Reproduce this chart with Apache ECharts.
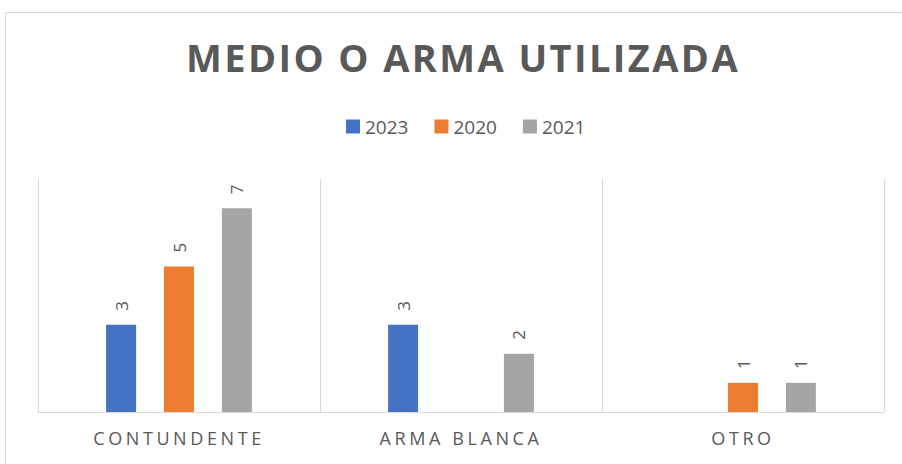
<!DOCTYPE html>
<html>
<head>
<meta charset="utf-8">
<script src="https://cdn.jsdelivr.net/npm/echarts@6/dist/echarts.min.js"></script>
<style>
  html, body { margin: 0; padding: 0; background: #fff; }
  #chart { width: 902px; height: 464px; }
  /* Excel-style spaced capitals for title and category labels */
  #chart text[style*="spaced-title"] { letter-spacing: 2.4px; }
  #chart text[style*="spaced-axis"] { letter-spacing: 3.6px; }
</style>
</head>
<body>
<div id="chart"></div>
<script>
const categories = ["CONTUNDENTE", "ARMA BLANCA", "OTRO"];
const seriesNames = ["2023", "2020", "2021"];
const values2023 = [3, 3, null];
const values2020 = [5, null, 1];
const values2021 = [7, 2, 1];
const colors = ["#4472C4", "#ED7D31", "#A5A5A5"];

const textGray = "#595959";
const lineGray = "#D9D9D9";

const chart = echarts.init(document.getElementById("chart"), null, { renderer: "svg" });

// value labels read bottom-to-top above each bar
const labelStyle = {
  show: true,
  position: "top",
  rotate: 90,
  align: "left",
  verticalAlign: "middle",
  distance: 14,
  color: textGray,
  fontSize: 17,
  fontFamily: "Open Sans"
};

function makeSeries(name, data, i) {
  return {
    name: name,
    type: "bar",
    data: data,
    barWidth: 30,
    barGap: "93%",
    itemStyle: { color: colors[i] },
    label: labelStyle,
    emphasis: { disabled: true }
  };
}

chart.setOption({
  animation: false,
  graphic: [{
    type: "rect",
    shape: { x: 5.5, y: 12.5, width: 920, height: 480 },
    style: { fill: "none", stroke: lineGray, lineWidth: 1 },
    silent: true,
    z: -10
  }],
  title: {
    text: "MEDIO O ARMA UTILIZADA",
    left: 186,
    top: 36,
    padding: 0,
    textAlign: "left",
    textStyle: {
      color: textGray,
      fontSize: 38,
      fontWeight: "bold",
      fontFamily: "Open Sans, spaced-title",
      lineHeight: 42
    }
  },
  legend: {
    data: seriesNames,
    top: 117,
    left: 346,
    padding: 0,
    itemWidth: 14,
    itemHeight: 14,
    itemGap: 26,
    icon: "rect",
    textStyle: { color: textGray, fontSize: 19, fontFamily: "Open Sans" }
  },
  grid: { left: 38, right: 18, top: 179, bottom: 52, containLabel: false },
  xAxis: {
    type: "category",
    data: categories,
    axisTick: { show: false },
    axisLine: { lineStyle: { color: lineGray, width: 1 } },
    splitLine: { show: true, lineStyle: { color: lineGray, width: 1 } },
    axisLabel: {
      color: textGray,
      fontSize: 18,
      fontFamily: "Open Sans, spaced-axis",
      margin: 17
    }
  },
  yAxis: {
    type: "value",
    min: 0,
    max: 8,
    show: false,
    splitLine: { show: false }
  },
  series: [
    makeSeries(seriesNames[0], values2023, 0),
    makeSeries(seriesNames[1], values2020, 1),
    makeSeries(seriesNames[2], values2021, 2)
  ]
});
</script>
</body>
</html>
